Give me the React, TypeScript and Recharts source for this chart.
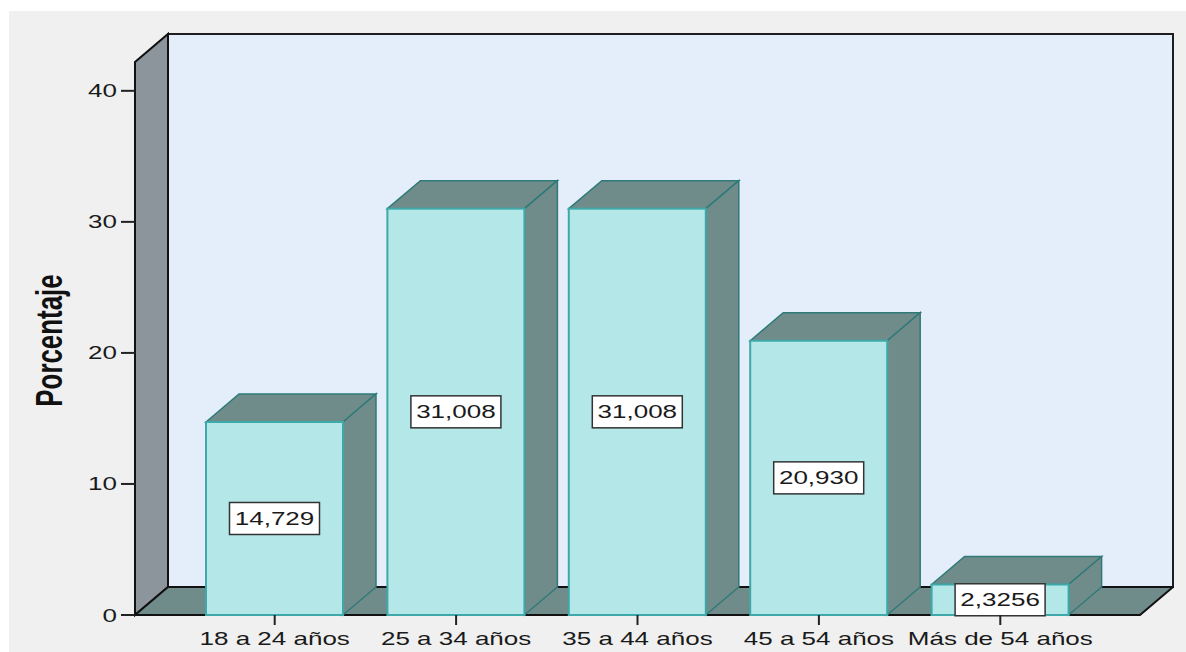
import React from 'react';
import { BarChart, Bar, XAxis, YAxis, Customized, usePlotArea } from 'recharts';

const categories = ['18 a 24 años', '25 a 34 años', '35 a 44 años', '45 a 54 años', 'Más de 54 años'];
const percentages = [14.729, 31.008, 31.008, 20.93, 2.3256];
const valueLabels = ['14,729', '31,008', '31,008', '20,930', '2,3256'];
const yTicks = [0, 10, 20, 30, 40];

const chartData = categories.map((name, i) => ({
  name,
  value: percentages[i],
  label: valueLabels[i],
}));

// depth of the fake 3D box
const DX = 33;
const DY = 28;
// the source picture is squashed vertically, text follows that
const SQUASH = 0.7;
const FONT = '"Liberation Sans", Arial, sans-serif';

const FRONT = '#b4e7e7';
const FRONT_EDGE = '#3fa9a9';
const SIDE = '#6f8c8a';
const SIDE_EDGE = '#2f7a78';
const BACK_WALL = '#e3eefa';
const LEFT_WALL = '#8c949c';

function Walls() {
  const area = usePlotArea();
  if (!area) return null;
  const { x, y, width, height } = area;
  const r = x + width;
  const b = y + height;
  return (
    <g>
      <rect x={x + DX} y={y - DY} width={width} height={height} fill={BACK_WALL} stroke="#1e1e1e" strokeWidth={2} />
      <polygon
        points={`${x},${y} ${x + DX},${y - DY} ${x + DX},${b - DY} ${x},${b}`}
        fill={LEFT_WALL}
        stroke="#111"
        strokeWidth={2}
      />
      <polygon
        points={`${x},${b} ${x + DX},${b - DY} ${r + DX},${b - DY} ${r},${b}`}
        fill={SIDE}
        stroke="#111"
        strokeWidth={2}
        strokeLinejoin="round"
      />
    </g>
  );
}

function Box3D(props: any) {
  const { x, y, width, height, payload } = props;
  const r = x + width;
  const b = y + height;
  const cx = x + width / 2;
  const cy = y + height / 2;
  return (
    <g>
      <polygon
        points={`${x},${y} ${x + DX},${y - DY} ${r + DX},${y - DY} ${r},${y}`}
        fill={SIDE}
        stroke={SIDE_EDGE}
        strokeWidth={1.5}
      />
      <polygon
        points={`${r},${y} ${r + DX},${y - DY} ${r + DX},${b - DY} ${r},${b}`}
        fill={SIDE}
        stroke={SIDE_EDGE}
        strokeWidth={1.5}
      />
      <rect x={x} y={y} width={width} height={height} fill={FRONT} stroke={FRONT_EDGE} strokeWidth={2} />
      <rect x={cx - 45} y={cy - 16} width={90} height={32} fill="#fff" stroke="#333" strokeWidth={1.5} />
      <text
        transform={`translate(${cx},${cy + 6.5}) scale(1,${SQUASH})`}
        textAnchor="middle"
        fontFamily={FONT}
        fontSize={26}
        fill="#1a1a1a"
      >
        {payload.label}
      </text>
    </g>
  );
}

function XTick(props: any) {
  const { x, y, payload } = props;
  return (
    <text
      transform={`translate(${x},${y + 18}) scale(1,${SQUASH})`}
      textAnchor="middle"
      fontFamily={FONT}
      fontSize={26}
      fill="#1a1a1a"
    >
      {payload.value}
    </text>
  );
}

function YTick(props: any) {
  const { x, y, payload } = props;
  return (
    <text
      transform={`translate(${x},${y + 6.5}) scale(1,${SQUASH})`}
      textAnchor="end"
      fontFamily={FONT}
      fontSize={26}
      fill="#1a1a1a"
    >
      {payload.value}
    </text>
  );
}

function YTitle(props: any) {
  const vb = props.viewBox || { x: 0, y: 62, width: 135, height: 553 };
  const cx = 62;
  const cy = vb.y + vb.height / 2 + 2;
  return (
    <text
      transform={`translate(${cx},${cy}) scale(1,${SQUASH}) rotate(-90)`}
      textAnchor="middle"
      fontFamily={FONT}
      fontWeight="bold"
      fontSize={37}
      fill="#111"
    >
      Porcentaje
    </text>
  );
}

export default function App() {
  return (
    <div style={{ position: 'absolute', left: 0, top: 0, width: 1186, height: 652, background: '#fff' }}>
      <div style={{ position: 'absolute', left: 9, top: 11, width: 1177, height: 641, background: '#f0f0f0' }} />
      <div style={{ position: 'absolute', left: 0, top: 0 }}>
        <BarChart
          width={1186}
          height={652}
          data={chartData}
          margin={{ top: 62, right: 46, bottom: 0, left: 0 }}
        >
          <Customized component={<Walls />} />
          <XAxis
            dataKey="name"
            height={37}
            padding={{ left: 49, right: 49 }}
            axisLine={false}
            tickSize={10}
            tickMargin={2}
            tickLine={{ stroke: '#222', strokeWidth: 2 }}
            tick={<XTick />}
            interval={0}
          />
          <YAxis
            width={135}
            domain={[0, 42.2]}
            ticks={yTicks}
            axisLine={false}
            tickSize={14}
            tickMargin={4}
            tickLine={{ stroke: '#222', strokeWidth: 2 }}
            tick={<YTick />}
            label={{ content: <YTitle /> }}
          />
          <Bar dataKey="value" barSize={137} shape={<Box3D />} isAnimationActive={false} />
        </BarChart>
      </div>
    </div>
  );
}
